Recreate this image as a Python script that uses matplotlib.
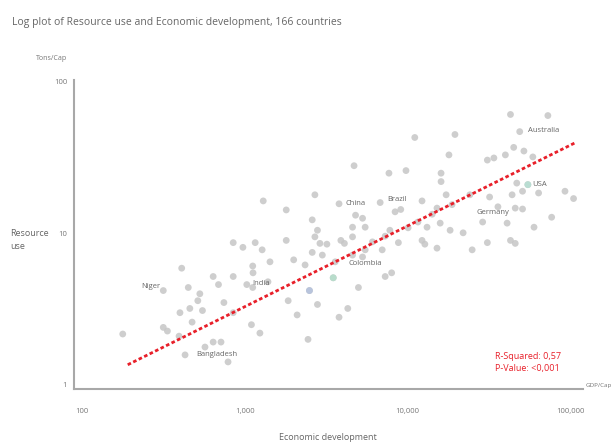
import numpy as np
import matplotlib.pyplot as plt

plt.rcParams['font.family'] = ['Open Sans', 'DejaVu Sans']

# GDP per capita (USD) and resource use (tons per capita)
gdp = [43000, 73000, 49000, 19600, 11100, 4700, 7700, 9800, 18000, 31000,
       34000, 40000, 45000, 52000, 59000, 16100, 16100, 2700, 3800, 6800,
       12300, 17300, 15200, 32000, 44000, 51000, 55000, 47000, 64000, 93000,
       105000, 77000, 60000, 36000, 46000, 51000, 41000, 29000, 22000, 18300,
       43000, 31000, 15900, 2600, 4800, 5300, 5500, 4600, 8400, 9100,
       13200, 7800, 2700, 2900, 3200, 3900, 4600, 1800, 1300, 2800,
       1800, 4100, 2600, 3000, 1430, 2000, 2350, 5500, 7000, 8800,
       12300, 12800, 5300, 3500, 7300, 8000, 5000, 1390, 2500, 1850,
       2800, 4300, 3800, 2100, 2450, 15200, 25000, 46000,
       850, 975, 1160, 1280, 410, 1120, 640, 850, 690, 1030,
       316, 450, 530, 515, 460, 400, 550, 745, 1120, 1100,
       1240, 850, 475, 316, 335, 178, 640, 715, 570, 430,
       790, 1125, 395,
       3600, 4600, 6100, 7300, 10100, 11600, 14200, 18800, 24200]
res = [61, 60, 47, 45, 43, 28, 25, 26, 33, 30.5,
       31.5, 33, 37, 35, 32, 25, 22, 18, 15.7, 16,
       16.4, 18, 14.7, 17.4, 18, 19, 21, 21.5, 18.5, 19,
       17, 12.8, 11, 15, 14.7, 14.5, 11.7, 11.9, 10.1, 10.5,
       9, 8.7, 11.7, 12.3, 13.2, 12.6, 11, 11, 13.9, 14.4,
       11, 10.5, 9.5, 8.6, 8.5, 9, 9.5, 14.3, 16.4, 10.5,
       9, 8.6, 7.5, 7.2, 6.5, 6.7, 6.2, 7.8, 7.8, 8.7,
       9, 8.5, 7, 5.1, 5.2, 5.5, 4.4, 4.8, 4.2, 3.6,
       3.4, 3.2, 2.8, 2.9, 2, 8, 7.8, 8.6,
       8.7, 8.1, 8.7, 7.8, 5.9, 6.1, 5.2, 5.2, 4.6, 4.6,
       4.2, 4.4, 4, 3.6, 3.2, 3, 3.1, 3.5, 4.4, 2.5,
       2.2, 3, 2.6, 2.4, 2.27, 2.17, 1.92, 1.92, 1.78, 1.58,
       1.42, 5.5, 2.1,
       6.5, 7.2, 8.8, 9.6, 10.9, 11.9, 13.4, 15.5, 18]

# a few tinted dots
tinted_gdp = [55000, 3500, 2500]
tinted_res = [21, 5.1, 4.2]
tinted_col = ['#b9ddd2', '#b8dccb', '#b8c4dc']

# country labels: name, point, offset (points)
lab_names = ['Niger', 'India', 'Bangladesh', 'China', 'Brazil',
             'Australia', 'USA', 'Germany', 'Colombia']
lab_gdp = [316, 1120, 430, 3800, 6800, 49000, 55000, 46000, 5300]
lab_res = [4.2, 4.4, 1.58, 15.7, 16, 47, 21, 14.7, 7]
lab_dx = [-2, 0, 8, 5, 5, 6, 3, -4, -10]
lab_dy = [3, 3, 0, 0, 2, 1, 0, -3, -5]
lab_ha = ['right', 'left', 'left', 'left', 'left', 'left', 'left', 'right', 'left']

# regression line endpoints
fit_gdp = [191, 107000]
fit_res = [1.36, 39.6]

fig = plt.figure(figsize=(6.14, 4.43), dpi=100)
ax = fig.add_axes([74/614, 54/443, 509/614, 309/443])
ax.set_xscale('log')
ax.set_yscale('log')
ax.set_xlim(89.3, 120000)
ax.set_ylim(0.941, 103)

ax.scatter(gdp, res, s=24, color='#c6c6c6', alpha=0.85, edgecolors='none', zorder=2)
ax.scatter(tinted_gdp, tinted_res, s=24, c=tinted_col, edgecolors='none', zorder=2)
ax.plot(fit_gdp, fit_res, color='#e8202a', lw=2.0, linestyle=(0, (1.3, 0.9)), zorder=3)

for n, gx, gy, dx, dy, ha in zip(lab_names, lab_gdp, lab_res, lab_dx, lab_dy, lab_ha):
    ax.annotate(n, (gx, gy), xytext=(dx, dy), textcoords='offset points',
                fontsize=5.5, color='#666666', ha=ha, va='center', zorder=4)

for s in ['top', 'right']:
    ax.spines[s].set_visible(False)
for s in ['left', 'bottom']:
    ax.spines[s].set_color('#a8a8a8')
    ax.spines[s].set_linewidth(1.5)

ax.set_xticks([100, 1000, 10000, 100000])
ax.set_xticklabels(['100', '1,000', '10,000', '100,000'])
ax.set_yticks([1, 10, 100])
ax.set_yticklabels(['1', '10', '100'])
ax.minorticks_off()
ax.tick_params(axis='both', length=0, labelsize=5.5, labelcolor='#777777')
ax.tick_params(axis='x', pad=14)
ax.tick_params(axis='y', pad=5)

ax.text(0.827, 0.104, 'R-Squared: 0,57', transform=ax.transAxes, fontsize=6.5,
        color='#e8202a', va='center')
ax.text(0.827, 0.065, 'P-Value: <0,001', transform=ax.transAxes, fontsize=6.5,
        color='#e8202a', va='center')

fig.text(12/614, 1 - 22/443, 'Log plot of Resource use and Economic development, 166 countries',
         fontsize=7.5, color='#666666', va='center')
fig.text(52/614, 1 - 58/443, 'Tons/Cap', fontsize=5, color='#777777', ha='center', va='center')
fig.text(586/614, 1 - 386/443, 'GDP/Cap', fontsize=4.5, color='#777777', va='center')
fig.text(10/614, 1 - 240/443, 'Resource\nuse', fontsize=6.5, color='#666666', va='center',
         linespacing=1.6)
fig.text(328/614, 1 - 437/443, 'Economic development', fontsize=6.5, color='#666666',
         ha='center', va='center')

fig.savefig('out.png', dpi=100)
